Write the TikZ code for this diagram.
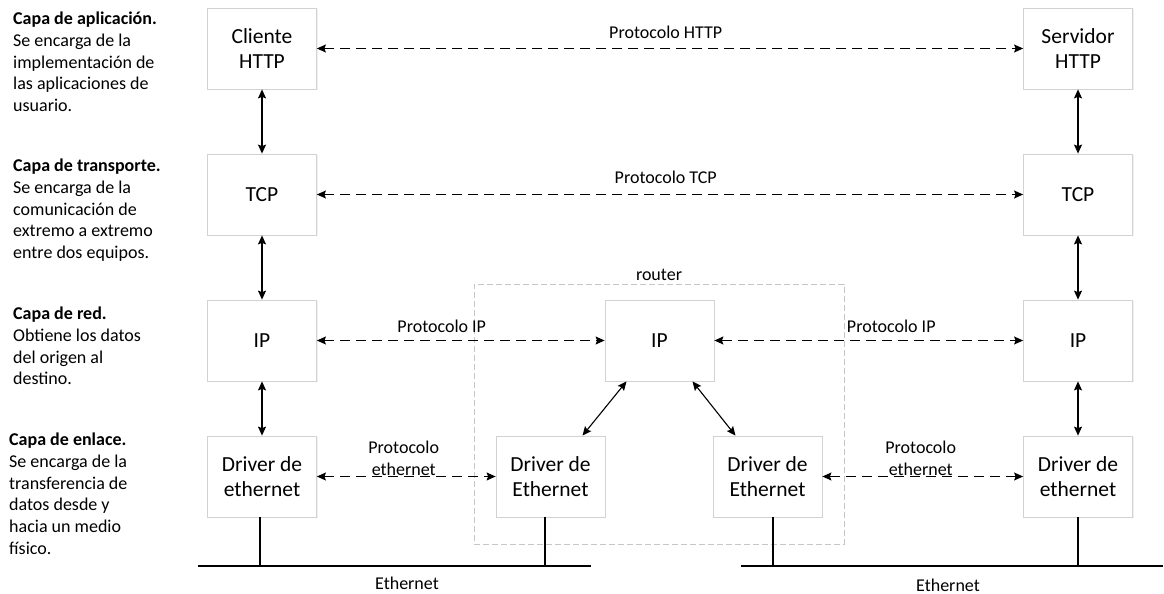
\documentclass[tikz,border=0pt]{standalone}
\usepackage{fontspec}
\setmainfont{Carlito}
\usetikzlibrary{arrows.meta,shadows,calc}
\begin{document}
\begin{tikzpicture}[x=1pt,y=-1pt,
  layerbox/.style={draw=gray!35, line width=0.8pt, fill=white,
    minimum width=109pt, minimum height=81pt, align=center, inner sep=2pt,
    font=\fontsize{21.5}{25}\selectfont,
    drop shadow={shadow xshift=1.2pt, shadow yshift=-1.2pt, opacity=0.12}},
  conn/.style={line width=1.1pt, {Stealth[length=9pt,width=8pt,inset=1.5pt]}-{Stealth[length=9pt,width=8pt,inset=1.5pt]}},
  proto/.style={conn, dash pattern=on 10pt off 6pt},
  lbl/.style={font=\fontsize{18}{21.7}\selectfont, align=center, inner sep=0pt},
  desc/.style={font=\fontsize{18}{21.7}\selectfont, align=left, anchor=north west, inner sep=0pt},
  wire/.style={line width=1.1pt}
]
\useasboundingbox (0,0) rectangle (1164,594);

% router frame
\node[draw=gray!45, dash pattern=on 6pt off 3pt, line width=0.8pt,
      minimum width=370pt, minimum height=260pt, inner sep=0pt] (router) at (659,414) {};
\node[lbl, anchor=south] (routerlbl) at (659,281) {router};

% left descriptions
\node[desc] (d1) at (13,12) {\textbf{Capa de aplicación.}\\Se encarga de la\\implementación de\\las aplicaciones de\\usuario.};
\node[desc] (d2) at (13,159) {\textbf{Capa de transporte.}\\Se encarga de la\\comunicación de\\extremo a extremo\\entre dos equipos.};
\node[desc] (d3) at (13,307) {\textbf{Capa de red.}\\Obtiene los datos\\del origen al\\destino.};
\node[desc] (d4) at (9,433) {\textbf{Capa de enlace.}\\Se encarga de la\\transferencia de\\datos desde y\\hacia un medio\\físico.};

% boxes
\node[layerbox] (cli) at (262,48.5) {Cliente\\HTTP};
\node[layerbox] (srv) at (1078,48.5) {Servidor\\HTTP};
\node[layerbox] (tcpL) at (262,194.5) {TCP};
\node[layerbox] (tcpR) at (1078,194.5) {TCP};
\node[layerbox] (ipL) at (262,340.5) {IP};
\node[layerbox] (ipM) at (659.5,340.5) {IP};
\node[layerbox] (ipR) at (1078,340.5) {IP};
\node[layerbox] (drvL) at (262,476.5) {Driver de\\ethernet};
\node[layerbox] (drvM1) at (550.5,476.5) {Driver de\\Ethernet};
\node[layerbox] (drvM2) at (767.5,476.5) {Driver de\\Ethernet};
\node[layerbox] (drvR) at (1078,476.5) {Driver de\\ethernet};

% vertical stack arrows
\draw[conn] (cli) -- (tcpL);
\draw[conn] (tcpL) -- (ipL);
\draw[conn] (ipL) -- (drvL);
\draw[conn] (srv) -- (tcpR);
\draw[conn] (tcpR) -- (ipR);
\draw[conn] (ipR) -- (drvR);
\draw[conn] ([xshift=-33pt]ipM.south) -- ([xshift=32pt]drvM1.north);
\draw[conn] ([xshift=33pt]ipM.south) -- ([xshift=-32pt]drvM2.north);

% protocol arrows
\draw[proto] (cli) -- node[lbl, pos=0.494, yshift=16pt] (lhttp) {Protocolo HTTP} (srv);
\draw[proto] (tcpL) -- node[lbl, pos=0.494, yshift=17pt] (ltcp) {Protocolo TCP} (tcpR);
\draw[proto] (ipL) -- node[lbl, pos=0.434, yshift=14pt] (lip1) {Protocolo IP} (ipM);
\draw[proto] (ipM) -- node[lbl, pos=0.573, yshift=14pt] (lip2) {Protocolo IP} (ipR);
\draw[proto] (drvL) -- node[lbl, pos=0.486, yshift=18pt] (leth1) {Protocolo\\ethernet} (drvM1);
\draw[proto] (drvM2) -- node[lbl, pos=0.49, yshift=18pt] (leth2) {Protocolo\\ethernet} (drvR);

% ethernet buses
\coordinate (bus1a) at (198,566);
\coordinate (bus1b) at (591,566);
\coordinate (bus2a) at (741,566);
\coordinate (bus2b) at (1163,566);
\draw[wire] (bus1a) -- (bus1b);
\draw[wire] (bus2a) -- (bus2b);
\draw[wire] ([xshift=-2pt]drvL.south) -- ([xshift=-2pt]drvL.south |- bus1a);
\draw[wire] ([xshift=-5.5pt]drvM1.south) -- ([xshift=-5.5pt]drvM1.south |- bus1a);
\draw[wire] ([xshift=5.5pt]drvM2.south) -- ([xshift=5.5pt]drvM2.south |- bus2a);
\draw[wire] (drvR.south) -- (drvR.south |- bus2a);
\node[lbl] (eth1) at (407,583) {Ethernet};
\node[lbl] (eth2) at (948,585) {Ethernet};
\end{tikzpicture}
\end{document}
